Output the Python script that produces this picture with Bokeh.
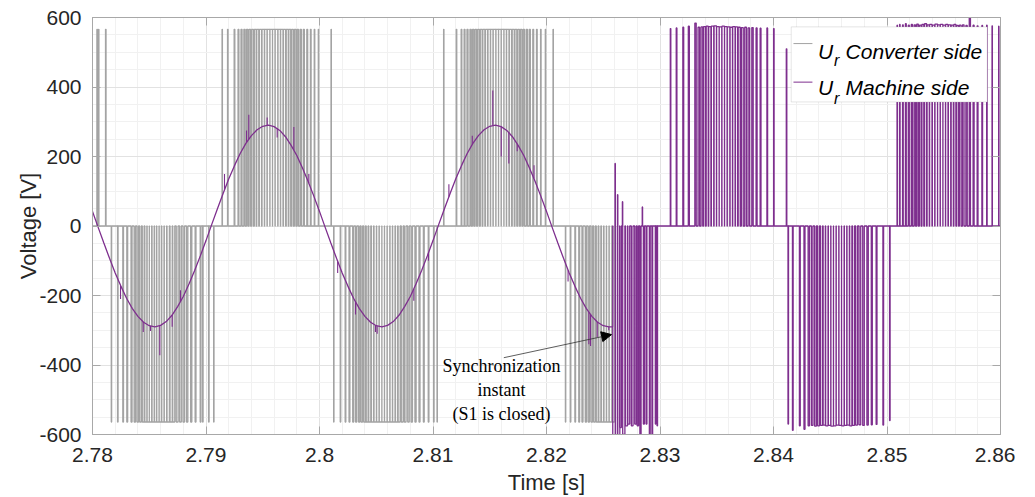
import numpy as np
from bokeh.plotting import figure
from bokeh.models import (Range1d, FixedTicker, CustomJSTickFormatter, LinearAxis,
                          Label, Arrow, NormalHead, BoxAnnotation)
from bokeh.embed import file_html
from bokeh.resources import INLINE

# ---------------- axes ----------------
x_ticks = [2.78, 2.79, 2.80, 2.81, 2.82, 2.83, 2.84, 2.85, 2.86]
x_tick_labels = ["2.78", "2.79", "2.8", "2.81", "2.82", "2.83", "2.84", "2.85", "2.86"]
x_minor = [2.78 + 0.002 * i for i in range(41)]
y_ticks = [-600, -400, -200, 0, 200, 400, 600]
y_tick_labels = ["-600", "-400", "-200", "0", "200", "400", "600"]
y_minor = [-600 + 50 * i for i in range(25)]

# ---------------- U_r converter side (grey PWM), times in ms ----------------
conv_high = 566
conv_low = -564
conv_pos0_t = [2780.41, 2780.55, 2781.17]
conv_pos0_w = [0.03, 0.02, 0.03]
conv_neg1_t = [2781.67, 2782.23, 2782.70, 2783.06, 2783.44, 2783.73, 2783.99, 2784.23, 2784.47, 2784.70,
               2784.91, 2785.11, 2785.35, 2785.55, 2785.75, 2785.99, 2786.19, 2786.43, 2786.67, 2786.93,
               2787.16, 2787.46, 2787.75, 2788.04, 2788.34, 2788.70, 2789.08, 2789.52, 2789.72, 2790.25, 2790.69]
conv_neg1_w = [0.02, 0.03, 0.04, 0.05, 0.06, 0.08, 0.09, 0.10, 0.11, 0.12, 0.13, 0.14, 0.14, 0.15, 0.15,
               0.15, 0.15, 0.14, 0.14, 0.13, 0.12, 0.11, 0.10, 0.09, 0.08, 0.07, 0.05, 0.04, 0.03, 0.03, 0.02]
conv_pos1_t = [2791.43, 2791.92, 2792.51, 2792.86, 2793.13, 2793.39, 2793.63, 2793.86, 2794.10, 2794.34,
               2794.56, 2794.80, 2795.04, 2795.27, 2795.51, 2795.75, 2795.97, 2796.21, 2796.45, 2796.68,
               2796.92, 2797.16, 2797.38, 2797.62, 2797.86, 2798.09, 2798.35, 2798.62, 2798.92, 2799.23,
               2799.56, 2799.91, 2801.03]
conv_pos1_w = [0.02, 0.03, 0.04, 0.05, 0.06, 0.07, 0.08, 0.09, 0.10, 0.11, 0.12, 0.13, 0.14, 0.14, 0.15,
               0.15, 0.15, 0.15, 0.14, 0.14, 0.13, 0.12, 0.11, 0.10, 0.09, 0.08, 0.07, 0.06, 0.05, 0.04,
               0.03, 0.02, 0.02]
conv_neg2_t = [2801.26, 2801.85, 2802.29, 2802.64, 2802.97, 2803.23, 2803.50, 2803.73, 2803.97, 2804.20,
               2804.43, 2804.67, 2804.91, 2805.14, 2805.38, 2805.61, 2805.84, 2806.08, 2806.32, 2806.55,
               2806.79, 2807.02, 2807.29, 2807.55, 2807.84, 2808.13, 2808.46, 2808.81, 2809.19, 2809.61,
               2810.07, 2810.37]
conv_neg2_w = [0.02, 0.03, 0.04, 0.05, 0.06, 0.07, 0.08, 0.09, 0.10, 0.11, 0.12, 0.13, 0.14, 0.14, 0.15,
               0.15, 0.15, 0.15, 0.14, 0.14, 0.13, 0.12, 0.11, 0.10, 0.09, 0.08, 0.07, 0.06, 0.05, 0.04,
               0.03, 0.02]
conv_pos2_t = [2810.95, 2812.07, 2812.51, 2812.78, 2813.04, 2813.31, 2813.54, 2813.77, 2814.01, 2814.25,
               2814.48, 2814.72, 2814.95, 2815.18, 2815.42, 2815.66, 2815.89, 2816.13, 2816.36, 2816.59,
               2816.83, 2817.07, 2817.30, 2817.54, 2817.77, 2818.00, 2818.27, 2818.53, 2818.83, 2819.15,
               2819.50, 2819.91, 2820.59]
conv_pos2_w = [0.02, 0.03, 0.04, 0.05, 0.06, 0.07, 0.08, 0.09, 0.10, 0.11, 0.12, 0.13, 0.14, 0.14, 0.15,
               0.15, 0.15, 0.15, 0.14, 0.14, 0.13, 0.12, 0.11, 0.10, 0.09, 0.08, 0.07, 0.06, 0.05, 0.04,
               0.03, 0.02, 0.02]
conv_neg3_t = [2821.68, 2822.12, 2822.53, 2822.88, 2823.17, 2823.47, 2823.73, 2823.99, 2824.23, 2824.47,
               2824.70, 2824.94, 2825.17, 2825.40, 2825.64, 2825.88]
conv_neg3_w = [0.02, 0.03, 0.04, 0.05, 0.06, 0.07, 0.08, 0.09, 0.10, 0.11, 0.12, 0.13, 0.14, 0.14, 0.15, 0.15]
conv_end_t = 2826.0

# ---------------- U_r machine side (purple), times in ms ----------------
mach_sine_t0 = 2780.0
mach_sine_dt = 0.5
mach_sine_v = [42, -4, -49, -93, -135, -173, -208, -237, -260, -277, -287, -290, -286, -275, -257, -232,
               -203, -167, -128, -86, -42, 4, 49, 93, 135, 173, 208, 237, 260, 277, 287, 290, 286, 275,
               257, 232, 203, 167, 128, 86, 42, -4, -49, -93, -135, -173, -208, -237, -260, -277, -287,
               -290, -286, -275, -257, -232, -203, -167, -128, -86, -42, 4, 49, 93, 135, 173, 208, 237,
               260, 277, 287, 290, 286, 275, 257, 232, 203, 167, 128, 86, 42, -4, -49, -93, -135, -173,
               -208, -237, -260, -277, -287, -290]
mach_spike_t = [2782.47, 2784.47, 2785.11, 2785.93, 2787.02, 2787.75, 2791.63, 2793.57, 2793.77, 2795.39,
                2796.27, 2797.74, 2799.06, 2801.60, 2803.17, 2804.93, 2805.08, 2808.31, 2809.60, 2811.40,
                2813.46, 2815.27, 2816.01, 2816.68, 2817.42, 2818.90, 2821.90, 2823.73, 2823.88, 2824.47,
                2825.49]
mach_spike_from = [-171, -276, -288, -287, -256, -218, 104, 240, 250, 290, 281, 219, 123, -102, -218, -286,
                   -288, -181, -77, 84, 235, 289, 286, 269, 237, 137, -127, -248, -255, -276, -290]
mach_spike_to = [-210, -305, -302, -372, -290, -185, 150, 275, 320, 312, 255, 285, 150, -135, -255, -305,
                 -310, -215, -100, 120, 260, 390, 200, 180, 215, 175, -160, -340, -345, -320, -300]
mach_sync_t = 2825.85
mach_sync_v = -290

mach_neg1_t = [2825.95, 2826.17, 2826.37, 2826.52, 2826.81, 2827.05, 2827.25, 2827.55, 2827.84, 2828.05,
               2828.28, 2828.58, 2828.81, 2829.10, 2829.32, 2829.61, 2829.76]
mach_neg1_w = [0.15, 0.12, 0.12, 0.10, 0.13, 0.12, 0.11, 0.10, 0.09, 0.08, 0.07, 0.06, 0.05, 0.05, 0.04,
               0.03, 0.03]
mach_neg1_v = [-640, -620, -610, -580, -600, -575, -570, -575, -570, -575, -610, -570, -570, -620, -630,
               -570, -575]
mach_trans_t = [2826.05, 2826.27, 2826.70, 2828.45]
mach_trans_w = [0.02, 0.02, 0.02, 0.02]
mach_trans_v = [180, 90, 70, 55]
mach_pos1_t = [2830.93, 2831.46, 2832.05, 2832.54, 2833.13, 2833.42, 2833.69, 2833.92, 2834.16, 2834.39,
               2834.63, 2834.87, 2835.10, 2835.33, 2835.57, 2835.80, 2836.04, 2836.28, 2836.51, 2836.74,
               2836.98, 2837.25, 2837.54, 2837.83, 2838.15, 2838.51, 2838.86, 2839.45, 2840.03]
mach_pos1_w = [0.03, 0.04, 0.05, 0.06, 0.08, 0.09, 0.10, 0.11, 0.12, 0.13, 0.14, 0.14, 0.15, 0.15, 0.15,
               0.15, 0.15, 0.14, 0.14, 0.13, 0.12, 0.11, 0.10, 0.09, 0.08, 0.06, 0.05, 0.04, 0.03]
mach_pos1_v = [568, 570, 572, 575, 584, 572, 573, 574, 575, 574, 575, 576, 574, 573, 575, 574, 573, 572,
               574, 573, 572, 571, 572, 570, 571, 570, 569, 570, 568]
mach_lone_t = [2841.15]
mach_lone_w = [0.03]
mach_lone_v = [510]
mach_neg2_t = [2841.30, 2841.70, 2842.32, 2842.73, 2843.11, 2843.41, 2843.70, 2843.97, 2844.23, 2844.47,
               2844.70, 2844.94, 2845.17, 2845.40, 2845.64, 2845.88, 2846.11, 2846.35, 2846.58, 2846.81,
               2847.05, 2847.32, 2847.61, 2847.93, 2848.29, 2848.66, 2849.08, 2849.67, 2850.25]
mach_neg2_w = [0.03, 0.04, 0.05, 0.06, 0.08, 0.09, 0.10, 0.11, 0.12, 0.13, 0.14, 0.14, 0.15, 0.15, 0.15,
               0.15, 0.15, 0.14, 0.14, 0.13, 0.12, 0.11, 0.10, 0.09, 0.08, 0.06, 0.05, 0.04, 0.03]
mach_neg2_v = [-570, -588, -575, -585, -575, -574, -576, -575, -574, -573, -575, -574, -576, -575, -573,
               -574, -575, -574, -573, -575, -574, -573, -572, -574, -573, -572, -571, -573, -560]
mach_pos2_t = [2850.90, 2851.13, 2851.40, 2851.66, 2851.92, 2852.19, 2852.45, 2852.69, 2852.93, 2853.16,
               2853.40, 2853.63, 2853.86, 2854.10, 2854.34, 2854.57, 2854.81, 2855.04, 2855.27, 2855.51,
               2855.75, 2855.98, 2856.22, 2856.45, 2856.72, 2857.01, 2857.30, 2857.63, 2857.98, 2858.39,
               2858.80, 2859.27, 2859.85]
mach_pos2_w = [0.02, 0.03, 0.04, 0.05, 0.06, 0.07, 0.08, 0.09, 0.10, 0.11, 0.12, 0.13, 0.14, 0.14, 0.15,
               0.15, 0.15, 0.15, 0.14, 0.14, 0.13, 0.12, 0.11, 0.10, 0.09, 0.08, 0.07, 0.06, 0.05, 0.04,
               0.03, 0.02, 0.02]
mach_pos2_v = [578, 580, 579, 582, 578, 580, 579, 581, 578, 580, 582, 579, 580, 578, 581, 579, 580, 578,
               580, 579, 578, 580, 577, 578, 579, 577, 600, 578, 576, 577, 578, 576, 575]
mach_end_t = 2860.0

series_names = ["Converter side", "Machine side"]
conv_color = "#a3a3a3"
mach_color = "#7e2f8e"
text_color = "#262626"
frame_color = "#a8a8a8"
pulse_scale = 1.5   # drawn pulse width factor (rendering only)


def pulse_train(start, end, centers, widths, levels):
    items = sorted(zip(centers, widths, levels))
    xs, ys = [start], [0.0]
    for c, w, lv in items:
        h = w * pulse_scale / 2
        xs += [c - h, c - h, c + h, c + h]
        ys += [0.0, lv, lv, 0.0]
    xs.append(end)
    ys.append(0.0)
    return np.array(xs) / 1000.0, np.array(ys)


# converter side
c_cent = conv_pos0_t + conv_neg1_t + conv_pos1_t + conv_neg2_t + conv_pos2_t + conv_neg3_t
c_wid = conv_pos0_w + conv_neg1_w + conv_pos1_w + conv_neg2_w + conv_pos2_w + conv_neg3_w
c_lev = ([conv_high] * len(conv_pos0_t) + [conv_low] * len(conv_neg1_t) + [conv_high] * len(conv_pos1_t)
         + [conv_low] * len(conv_neg2_t) + [conv_high] * len(conv_pos2_t) + [conv_low] * len(conv_neg3_t))
cx, cy = pulse_train(2780.0, conv_end_t, c_cent, c_wid, c_lev)

# machine side: sine part then PWM part
sine_t = [mach_sine_t0 + mach_sine_dt * i for i in range(len(mach_sine_v))]
m_cent = mach_neg1_t + mach_trans_t + mach_pos1_t + mach_lone_t + mach_neg2_t + mach_pos2_t
m_wid = mach_neg1_w + mach_trans_w + mach_pos1_w + mach_lone_w + mach_neg2_w + mach_pos2_w
m_lev = mach_neg1_v + mach_trans_v + mach_pos1_v + mach_lone_v + mach_neg2_v + mach_pos2_v
px, py = pulse_train(mach_sync_t, mach_end_t, m_cent, m_wid, m_lev)
mx = np.concatenate([np.array(sine_t + [mach_sync_t]) / 1000.0, px])
my = np.concatenate([np.array(mach_sine_v + [mach_sync_v], dtype=float), py])

# ---------------- figure ----------------
p = figure(width=1015, height=497, x_range=Range1d(2.78, 2.86), y_range=Range1d(-600, 600),
           output_backend="svg", toolbar_location=None,
           min_border_left=92, min_border_right=15, min_border_top=17, min_border_bottom=63)
p.background_fill_color = "white"
p.border_fill_color = "white"
p.outline_line_color = frame_color

bottom = p.below[0]
left = p.left[0]

fmt_code = """
let b = 0, d = Infinity;
for (let i = 0; i < tk.length; i++) { const e = Math.abs(tk[i] - tick); if (e < d) { d = e; b = i; } }
return lb[b];"""
xt = FixedTicker(ticks=x_ticks, minor_ticks=x_minor)
yt = FixedTicker(ticks=y_ticks, minor_ticks=y_minor)
bottom.ticker = xt
left.ticker = yt
bottom.formatter = CustomJSTickFormatter(args=dict(tk=x_ticks, lb=x_tick_labels), code=fmt_code)
left.formatter = CustomJSTickFormatter(args=dict(tk=y_ticks, lb=y_tick_labels), code=fmt_code)

blank = CustomJSTickFormatter(code="return '';")
top = LinearAxis(ticker=FixedTicker(ticks=x_ticks), formatter=blank, major_label_standoff=0,
                 major_label_text_font_size="1px")
right = LinearAxis(ticker=FixedTicker(ticks=y_ticks), formatter=blank, major_label_standoff=0,
                   major_label_text_font_size="1px")
p.add_layout(top, "above")
p.add_layout(right, "right")

for ax in [bottom, left, top, right]:
    ax.axis_line_color = frame_color
    ax.major_tick_line_color = frame_color
    ax.major_tick_in = 8
    ax.major_tick_out = 0
    ax.minor_tick_line_color = None

for ax in [bottom, left]:
    ax.major_label_text_font = "Liberation Sans"
    ax.major_label_text_font_size = "21px"
    ax.major_label_text_color = text_color
    ax.axis_label_text_font = "Liberation Sans"
    ax.axis_label_text_font_size = "22px"
    ax.axis_label_text_font_style = "normal"
    ax.axis_label_text_color = text_color

bottom.major_label_standoff = 9
bottom.axis_label_standoff = 5
left.major_label_standoff = 7
left.axis_label_standoff = -5

bottom.axis_label = "Time [s]"
left.axis_label = "Voltage [V]"

p.xgrid.ticker = xt
p.ygrid.ticker = yt
for g in [p.xgrid, p.ygrid]:
    g.grid_line_color = "#e2e2e2"
    g.minor_grid_line_color = "#f1f1f1"

p.line(cx, cy, line_color=conv_color, line_width=1.3)
p.line(mx, my, line_color=mach_color, line_width=1.3)
p.segment(x0=np.array(mach_spike_t) / 1000.0, y0=mach_spike_from,
          x1=np.array(mach_spike_t) / 1000.0, y1=mach_spike_to,
          line_color=mach_color, line_width=1.1)

# annotation
p.add_layout(Arrow(x_start=2.81624, y_start=-379, x_end=2.82573, y_end=-312.5,
                   line_color="#333333", line_width=0.8,
                   end=NormalHead(size=10, fill_color="black", line_color="black")))
p.add_layout(Label(x=2.81604, y=-473, text="Synchronization\ninstant\n(S1 is closed)",
                   text_align="center", text_baseline="middle", text_line_height=1.2,
                   text_font="Liberation Serif", text_font_size="18px", text_color="black"))

# legend (custom, for the subscript)
p.add_layout(BoxAnnotation(left=2.84156, right=2.85883, bottom=357, top=573,
                           fill_color="white", fill_alpha=1.0, line_color=frame_color, line_width=1))
rows = [(525, 503.5, 477, conv_color, series_names[0]), (414, 398, 367, mach_color, series_names[1])]
for ly, base, sub, col, name in rows:
    p.add_layout(Arrow(x_start=2.84176, y_start=ly, x_end=2.84343, y_end=ly, end=None,
                       line_color=col, line_width=1))
    p.add_layout(Label(x=2.84391, y=base, text="U", text_font="Liberation Sans", text_font_style="italic",
                       text_font_size="21px", text_baseline="alphabetic", text_color="black"))
    p.add_layout(Label(x=2.84532, y=sub, text="r", text_font="Liberation Sans", text_font_style="italic",
                       text_font_size="16px", text_baseline="alphabetic", text_color="black"))
    p.add_layout(Label(x=2.84635, y=base, text=name, text_font="Liberation Sans", text_font_style="italic",
                       text_font_size="21px", text_baseline="alphabetic", text_color="black"))

open("out.html", "w").write(file_html(p, INLINE))
